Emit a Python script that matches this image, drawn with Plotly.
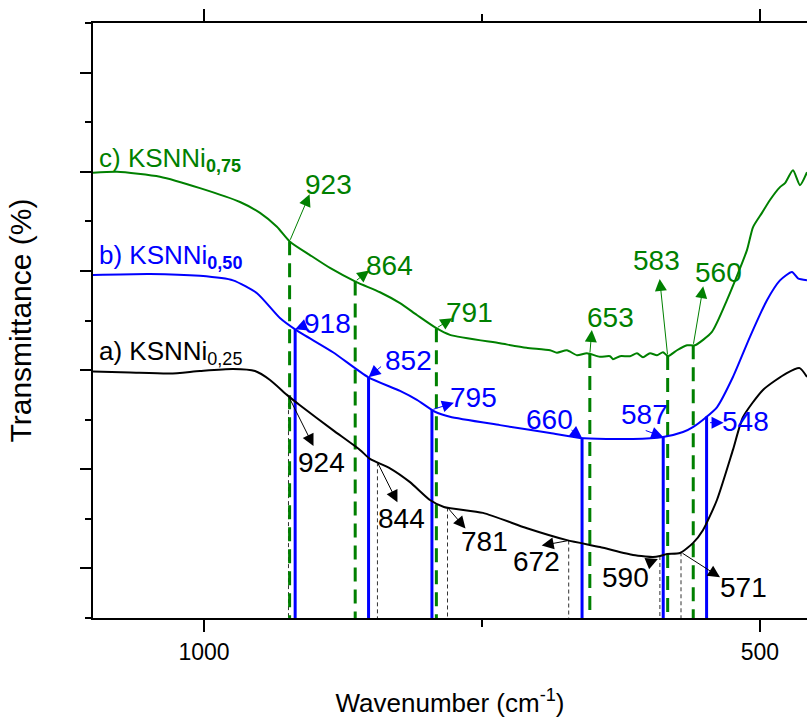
import numpy as np
import plotly.graph_objects as go

# ---------------- data ----------------
# a) KSNNi 0,25 (black)
wn_a = [1099.8, 1066.5, 1030.6, 1003.6, 973.9, 954.1, 940.6, 925.4, 913.7, 884.0,
        859.7, 850.7, 832.7, 814.7, 796.8, 784.2, 749.1, 709.5, 673.6, 643.9,
        614.2, 603.0, 596.2, 590.0, 583.6, 571.9, 560.3, 551.3, 538.7, 524.3,
        515.3, 497.3, 475.9, 464.3, 457.7]
tr_a = [4.97, 4.95, 4.93, 4.98, 5.02, 4.98, 4.80, 4.50, 4.29, 3.79,
        3.39, 3.21, 3.02, 2.74, 2.38, 2.24, 2.12, 1.81, 1.57, 1.43,
        1.27, 1.24, 1.23, 1.25, 1.29, 1.31, 1.51, 1.77, 2.38, 3.39,
        4.05, 4.60, 4.94, 5.04, 4.86]

# b) KSNNi 0,50 (blue)
wn_b = [1099.8, 1048.6, 1003.6, 973.9, 952.3, 931.7, 917.3, 884.0, 852.5, 823.7,
        808.5, 792.3, 778.8, 733.8, 688.8, 661.9, 614.2, 587.2, 569.2, 560.3,
        549.5, 538.7, 524.3, 509.0, 493.7, 482.0, 471.2, 465.8, 457.7]
tr_b = [6.92, 6.94, 6.90, 6.81, 6.55, 6.05, 5.81, 5.36, 4.86, 4.58,
        4.40, 4.16, 4.06, 3.89, 3.73, 3.63, 3.61, 3.65, 3.75, 3.85,
        4.03, 4.25, 4.86, 5.67, 6.41, 6.81, 6.98, 6.85, 6.81]

# c) KSNNi 0,75 (green)
wn_c = [1099.8, 1078.2, 1039.6, 1003.6, 967.6, 949.6, 934.4, 922.7, 904.7, 886.7,
        863.3, 841.7, 823.7, 808.5, 791.4, 778.8, 733.8, 710.0, 688.8, 682.6,
        673.6, 664.6, 655.6, 643.9, 634.9, 632.2, 625.9, 616.9, 610.6, 605.2,
        598.9, 592.6, 587.2, 582.7, 574.6, 565.6, 558.5, 543.2, 529.7, 511.7,
        506.3, 498.2, 491.0, 482.0, 477.5, 470.3, 464.0, 457.7]
tr_c = [8.98, 9.00, 8.90, 8.67, 8.39, 8.17, 7.89, 7.59, 7.32, 7.06,
        6.78, 6.57, 6.35, 6.11, 5.85, 5.71, 5.54, 5.45, 5.40, 5.35,
        5.40, 5.30, 5.34, 5.27, 5.28, 5.22, 5.28, 5.28, 5.34, 5.26,
        5.34, 5.30, 5.36, 5.28, 5.40, 5.50, 5.50, 5.77, 6.41, 7.42,
        7.88, 8.17, 8.43, 8.69, 8.77, 9.03, 8.73, 8.99]

peaks_a = [924, 844, 781, 672, 590, 571]
peaks_b = [918, 852, 795, 660, 587, 548]
peaks_c = [923, 864, 791, 653, 583, 560]

series_names = ["a) KSNNi", "b) KSNNi", "c) KSNNi"]
series_subs = ["0,25", "0,50", "0,75"]

x_tick_vals = [1000, 500]
x_tick_text = ["1000", "500"]
x_minor_vals = [750]
y_major_vals = [1, 3, 5, 7, 9, 11]
y_minor_vals = [0, 2, 4, 6, 8, 10, 12]

# ---------------- styles / layout positions ----------------
BLACK = "#000000"
BLUE = "#0000FF"
GREEN = "#008000"
FONT = "Arial, Liberation Sans, sans-serif"

# label layout relative to each peak point, in screen pixels (y down):
# (text centre), (arrow plain end), (arrow head end)
lay_a = [((33, 66), (0, 0), (25, 50)),
         ((24, 56), (0, 0), (20, 40)),
         ((37, 34), (0, 0), (18, 21)),
         ((-32, 21), (0, 0), (-27, 5)),
         ((-34, 21), (-14, 8), (-2, 3)),
         ((62, 35), (0, 0), (39, 25))]
lay_b = [((32, -6), (10, -4), (0, 0)),
         ((40, -17), (14, -12), (0, 0)),
         ((42, -12), (0, 0), (22, -7)),
         ((-33, -19), (-12, -9), (0, 0)),
         ((-19, -22), (-19, -7), (0, 0)),
         ((39, 5), (2, 6), (17, 6))]
lay_c = [((39, -57), (0, 0), (20, -47)),
         ((34, -16), (0, 0), (14, -11)),
         ((33, -16), (0, 0), (16, -10)),
         ((21, -37), (0, 0), (2, -24)),
         ((-11, -95), (0, 0), (-8, -77)),
         ((25, -73), (0, 0), (10, -59))]


def curve_at(wn, tr, p):
    return float(np.interp(p, wn[::-1], tr[::-1]))


fig = go.Figure()


def vlines(wn, tr, peaks, color, width, dash):
    xs, ys = [], []
    for p in peaks:
        xs += [p, p, None]
        ys += [curve_at(wn, tr, p), 0, None]
    fig.add_trace(go.Scatter(x=xs, y=ys, mode="lines", hoverinfo="skip",
                             line=dict(color=color, width=width, dash=dash)))


vlines(wn_a, tr_a, peaks_a, "#333333", 1, "4px,3px")
vlines(wn_b, tr_b, peaks_b, BLUE, 3, "solid")
vlines(wn_c, tr_c, peaks_c, GREEN, 3, "14px,8px")

for wn, tr, col, name in [(wn_a, tr_a, BLACK, series_names[0]),
                          (wn_b, tr_b, BLUE, series_names[1]),
                          (wn_c, tr_c, GREEN, series_names[2])]:
    fig.add_trace(go.Scatter(x=wn, y=tr, mode="lines", name=name,
                             line=dict(color=col, width=2, shape="spline", smoothing=0.6)))


def peak_labels(wn, tr, peaks, lays, color):
    for p, (txt, plain, head) in zip(peaks, lays):
        y = curve_at(wn, tr, p)
        fig.add_annotation(
            x=p, y=y, xshift=head[0], yshift=-head[1],
            ax=plain[0] - head[0], ay=plain[1] - head[1],
            text="", showarrow=True, arrowside="end",
            arrowhead=2, arrowsize=2.4, arrowwidth=1, arrowcolor=color)
        fig.add_annotation(
            x=p, y=y, xshift=txt[0], yshift=-txt[1],
            xanchor="center", yanchor="middle", text=str(p), showarrow=False,
            font=dict(family=FONT, size=28, color=color))


peak_labels(wn_a, tr_a, peaks_a, lay_a, BLACK)
peak_labels(wn_b, tr_b, peaks_b, lay_b, BLUE)
peak_labels(wn_c, tr_c, peaks_c, lay_c, GREEN)

name_pos = [(1096, 5.35), (1096, 7.3), (1096, 9.25)]
for (nx, ny), nm, sub, col, bold in zip(name_pos, series_names, series_subs,
                                         [BLACK, BLUE, GREEN], [False, True, True]):
    s = f"<b>{sub}</b>" if bold else sub
    fig.add_annotation(x=nx, y=ny, xanchor="left", yanchor="middle",
                       text=f"{nm}<sub><span style='font-size:18px'>{s}</span></sub>",
                       showarrow=False, font=dict(family=FONT, size=26, color=col))

fig.update_layout(
    width=807, height=724,
    margin=dict(l=93, r=0, t=23, b=106),
    paper_bgcolor="white", plot_bgcolor="white",
    showlegend=False,
    font=dict(family=FONT, color="black"),
    xaxis=dict(range=[1099.8, 457.7], showline=True, linecolor="black", linewidth=2,
               mirror="ticks", ticks="outside", ticklen=12, tickwidth=2, tickcolor="black",
               tickvals=x_tick_vals, ticktext=x_tick_text,
               tickfont=dict(size=23, family=FONT),
               minor=dict(tickvals=x_minor_vals, ticks="outside", ticklen=7,
                          tickwidth=2, tickcolor="black"),
               showgrid=False, zeroline=False,
               title=dict(text="Wavenumber (cm<sup>-1</sup>)",
                          font=dict(size=26, family=FONT), standoff=30)),
    yaxis=dict(range=[0, 12], showline=True, linecolor="black", linewidth=2,
               mirror=False, ticks="outside", ticklen=11, tickwidth=2, tickcolor="black",
               tickvals=y_major_vals, showticklabels=False,
               minor=dict(tickvals=y_minor_vals, ticks="outside", ticklen=6,
                          tickwidth=2, tickcolor="black"),
               showgrid=False, zeroline=False,
               title=dict(text="Transmittance (%)",
                          font=dict(size=30, family=FONT), standoff=40)),
)

fig.write_html("out.html")
